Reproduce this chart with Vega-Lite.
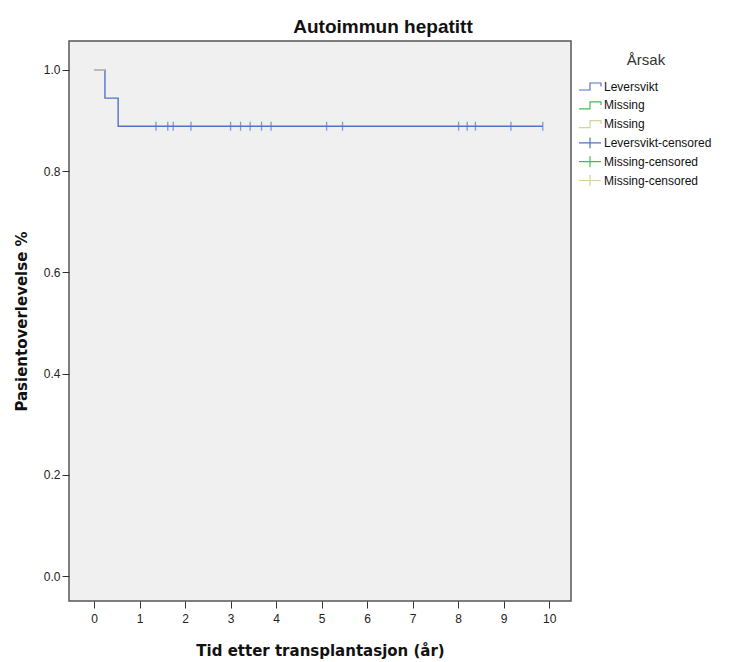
{
  "$schema": "https://vega.github.io/schema/vega-lite/v6.json",
  "width": 502,
  "height": 560,
  "autosize": {"type": "none"},
  "padding": {"left": 69, "top": 41, "right": 161, "bottom": 61},
  "background": "white",
  "title": {
    "text": "Autoimmun hepatitt",
    "font": "Liberation Sans",
    "fontSize": 19,
    "fontWeight": "bold",
    "color": "#111",
    "anchor": "middle",
    "dx": 63,
    "baseline": "alphabetic",
    "offset": -11
  },
  "config": {
    "view": {"fill": "#f0f0f0", "stroke": "#555", "strokeWidth": 1.5},
    "axis": {
      "labelFont": "Liberation Sans",
      "labelFontSize": 12,
      "labelColor": "#222",
      "tickColor": "#333",
      "tickSize": 7,
      "tickWidth": 1,
      "domain": false,
      "grid": false,
      "titleFont": "DejaVu Sans",
      "titleFontSize": 15,
      "titleFontWeight": "bold",
      "titleColor": "#111"
    }
  },
  "datasets": {
    "curve": [
      {"grp": "Leversvikt", "t": 0, "s": 1.0},
      {"grp": "Leversvikt", "t": 0.24, "s": 0.9444},
      {"grp": "Leversvikt", "t": 0.53, "s": 0.8889},
      {"grp": "Leversvikt", "t": 9.86, "s": 0.8889}
    ],
    "missing": [
      {"grp": "Missing ", "t": 0, "s": 1.0},
      {"grp": "Missing ", "t": 0.24, "s": 1.0}
    ],
    "censored": [
      {"grp": "Leversvikt-censored", "t": 1.36, "s": 0.8889},
      {"grp": "Leversvikt-censored", "t": 1.62, "s": 0.8889},
      {"grp": "Leversvikt-censored", "t": 1.74, "s": 0.8889},
      {"grp": "Leversvikt-censored", "t": 2.13, "s": 0.8889},
      {"grp": "Leversvikt-censored", "t": 3.0, "s": 0.8889},
      {"grp": "Leversvikt-censored", "t": 3.22, "s": 0.8889},
      {"grp": "Leversvikt-censored", "t": 3.43, "s": 0.8889},
      {"grp": "Leversvikt-censored", "t": 3.68, "s": 0.8889},
      {"grp": "Leversvikt-censored", "t": 3.89, "s": 0.8889},
      {"grp": "Leversvikt-censored", "t": 5.11, "s": 0.8889},
      {"grp": "Leversvikt-censored", "t": 5.46, "s": 0.8889},
      {"grp": "Leversvikt-censored", "t": 8.01, "s": 0.8889},
      {"grp": "Leversvikt-censored", "t": 8.2, "s": 0.8889},
      {"grp": "Leversvikt-censored", "t": 8.38, "s": 0.8889},
      {"grp": "Leversvikt-censored", "t": 9.16, "s": 0.8889},
      {"grp": "Leversvikt-censored", "t": 9.86, "s": 0.8889}
    ]
  },
  "encoding": {
    "x": {
      "field": "t",
      "type": "quantitative",
      "scale": {"domain": [-0.55, 10.48], "nice": false, "zero": false},
      "axis": {
        "values": [0, 1, 2, 3, 4, 5, 6, 7, 8, 9, 10],
        "format": "d",
        "labelPadding": 5,
        "title": "Tid etter transplantasjon (år)",
        "titlePadding": 19
      }
    },
    "y": {
      "field": "s",
      "type": "quantitative",
      "scale": {"domain": [-0.0494, 1.0573], "nice": false, "zero": false},
      "axis": {
        "values": [0, 0.2, 0.4, 0.6, 0.8, 1.0],
        "format": ".1f",
        "labelPadding": 2,
        "title": "Pasientoverlevelse %",
        "titlePadding": 14
      }
    },
    "color": {
      "field": "grp",
      "type": "nominal",
      "scale": {
        "domain": ["Leversvikt", "Missing", "Missing ", "Leversvikt-censored", "Missing-censored", "Missing-censored "],
        "range": ["#5572c6", "#3fbf55", "#d6d09a", "#5572c6", "#3fbf55", "#d6d09a"]
      },
      "legend": {
        "title": "Årsak",
        "orient": "none",
        "legendX": 512,
        "legendY": 12,
        "titleAnchor": "middle",
        "titleFont": "Liberation Sans",
        "titleFontSize": 15,
        "titleFontWeight": "normal",
        "titleColor": "#333",
        "titlePadding": 9.5,
        "labelFont": "Liberation Sans",
        "labelFontSize": 12,
        "labelColor": "#111",
        "labelOffset": 5,
        "symbolSize": 256,
        "symbolFillColor": "transparent",
        "rowPadding": 1.8,
        "encode": {
          "symbols": {
            "update": {
              "shape": {"signal": "indexof(datum.value, 'censored') >= 0 ? 'M-1.375,0H1.375M0,-0.68V0.68' : 'M0,-0.68M0,0.68M-1.375,0.44H0V-0.44H1.375V0'"},
              "stroke": {"signal": "scale('color', datum.value)"},
              "fill": {"value": "transparent"},
              "fillOpacity": {"value": 0},
              "strokeWidth": {"value": 1.2},
              "opacity": {"value": 1}
            }
          }
        }
      }
    }
  },
  "layer": [
    {
      "data": {"name": "curve"},
      "mark": {"type": "line", "interpolate": "step-after", "strokeWidth": 1.4}
    },
    {
      "data": {"name": "missing"},
      "mark": {"type": "line", "strokeWidth": 1.4}
    },
    {
      "data": {"name": "censored"},
      "mark": {"type": "tick", "orient": "vertical", "size": 9, "thickness": 1.3}
    }
  ]
}
